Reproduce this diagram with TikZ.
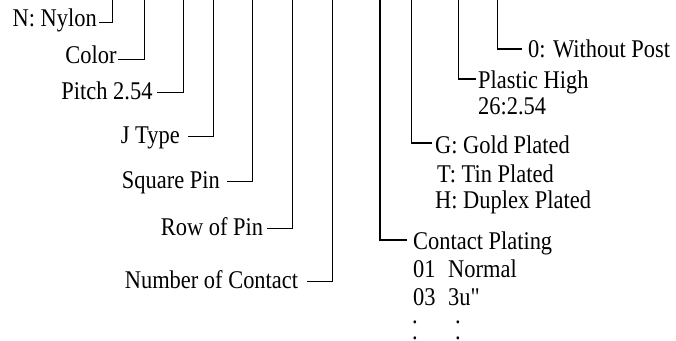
\documentclass[tikz,border=0pt]{standalone}
\usepackage{fontspec}
\setmainfont{Liberation Serif}[FakeStretch=0.88]
\newfontfamily\plainquote{Liberation Serif}[FakeStretch=0.88]
\usetikzlibrary{positioning}

\begin{document}
\begin{tikzpicture}[
  x=1pt, y=-1pt,
  lead/.style={line width=1.4pt},
  lbl/.style={inner sep=0pt,font=\fontsize{25.5}{28}\selectfont},
  lhs/.style={lbl,anchor=base east},
  rhs/.style={lbl,anchor=base west}
]
  \useasboundingbox (0,0) rectangle (676,340);

  % tops of the leads
  \coordinate (nylonTop) at (112.5,0);
  \coordinate (colorTop) at (144.3,0);
  \coordinate (pitchTop) at (183.3,0);
  \coordinate (jtypeTop) at (213.3,0);
  \coordinate (squareTop) at (252.3,0);
  \coordinate (rowTop) at (292.7,0);
  \coordinate (numberTop) at (332.3,0);
  \coordinate (platingTop) at (380,0);
  \coordinate (goldTop) at (411.5,0);
  \coordinate (plasticTop) at (458.3,0);
  \coordinate (postTop) at (497.7,0);

  % left labels
  \node[lhs] (nylon) at (97,26) {N: Nylon};
  \node[lhs] (color) at (116.7,63.3) {Color};
  \node[lhs] (pitch) at (152.7,99.3) {Pitch 2.54};
  \node[lhs] (jtype) at (180,143.3) {J Type};
  \node[lhs] (square) at (220,188.3) {Square Pin};
  \node[lhs] (row) at (263.3,235) {Row of Pin};
  \node[lhs] (number) at (298.3,288.3) {Number of Contact};

  % right labels
  \node[rhs] (post) at (528,57) {0: Without Post};
  \node[rhs] (plastic) at (478,88) {Plastic High};
  \node[rhs] (plasticVal) at (478,114) {26:2.54};
  \node[rhs] (gold) at (435,153) {G: Gold Plated};
  \node[rhs] (tin) at (437,182) {T: Tin Plated};
  \node[rhs] (duplex) at (435,208) {H: Duplex Plated};
  \node[rhs] (plating) at (413,249) {Contact Plating};
  \node[rhs] (normal) at (413,277) {\makebox[35pt][l]{01}Normal};
  \node[rhs] (thick) at (413,305) {\makebox[35pt][l]{03}{\plainquote 3u"}};
  \node[rhs] (dotsA) at (412,323) {\makebox[43pt][l]{.}.};
  \node[rhs] (dotsB) at (412,339) {\makebox[43pt][l]{.}.};

  \draw[lead] (nylonTop) |- ([xshift=2pt,yshift=3.3pt]nylon.base east);
  \draw[lead] (colorTop) |- ([xshift=1.6pt,yshift=4pt]color.base east);
  \draw[lead] (pitchTop) |- ([xshift=4pt,yshift=6.6pt]pitch.base east);
  \draw[lead] (jtypeTop) |- ([xshift=8.3pt,yshift=6.6pt]jtype.base east);
  \draw[lead] (squareTop) |- ([xshift=6.7pt,yshift=6.6pt]square.base east);
  \draw[lead] (rowTop) |- ([xshift=3.4pt,yshift=6.7pt]row.base east);
  \draw[lead] (numberTop) |- ([xshift=8.4pt,yshift=6.6pt]number.base east);

  \draw[lead] (postTop) |- ([xshift=-6pt,yshift=8pt]post.base west);
  \draw[lead] (plasticTop) |- ([xshift=-2pt,yshift=9pt]plastic.base west);
  \draw[lead] (goldTop) |- ([xshift=-3pt,yshift=10pt]gold.base west);
  \draw[lead] (platingTop) |- ([xshift=-6pt,yshift=9pt]plating.base west);
\end{tikzpicture}
\end{document}
